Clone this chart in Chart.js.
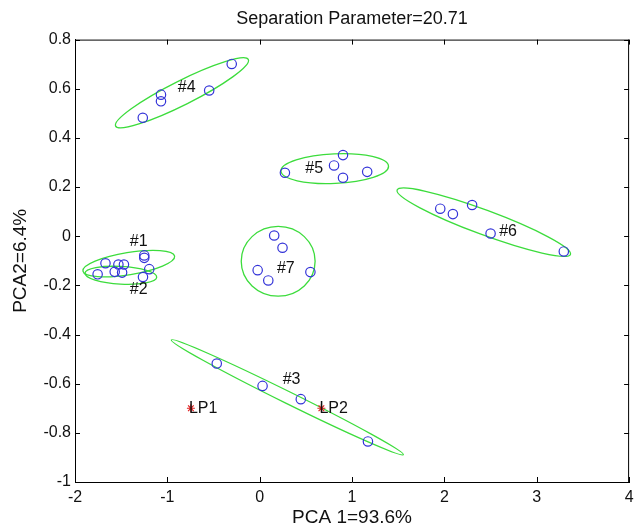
<!DOCTYPE html>
<html lang="en">
<head>
<meta charset="UTF-8">
<title>Separation Parameter</title>
<script src="https://cdn.jsdelivr.net/npm/chart.js"></script>
<style>
  body { margin: 0; background: #fff; }
  .wrap { width: 635px; height: 529px; }
</style>
</head>
<body>
<div class="wrap"><canvas id="pcaChart"></canvas></div>
<script>
// axis ticks
const xTicks = [-2, -1, 0, 1, 2, 3, 4];
const yTicks = [0.8, 0.6, 0.4, 0.2, 0, -0.2, -0.4, -0.6, -0.8, -1];

// sample scores (PCA1, PCA2) per group
const group1 = [[-1.25, -0.078], [-1.25, -0.088], [-1.196, -0.134], [-1.264, -0.166], [-1.53, -0.115]];
const group2 = [[-1.755, -0.155], [-1.67, -0.11], [-1.57, -0.145], [-1.49, -0.148], [-1.47, -0.115]];
const group3 = [[-0.465, -0.518], [0.031, -0.609], [0.445, -0.663], [1.172, -0.835]];
const group4 = [[-1.266, 0.482], [-1.069, 0.576], [-1.069, 0.549], [-0.547, 0.593], [-0.303, 0.701]];
const group5 = [[0.273, 0.258], [0.805, 0.288], [0.902, 0.330], [0.902, 0.238], [1.164, 0.262]];
const group6 = [[1.955, 0.112], [2.092, 0.090], [2.30, 0.127], [2.50, 0.011], [3.293, -0.062]];
const group7 = [[0.157, 0.003], [0.247, -0.047], [-0.022, -0.138], [0.093, -0.180], [0.549, -0.146]];

// reference points
const refNames = ['LP1', 'LP2'];
const refX = [-0.745, 0.668];
const refY = [-0.70, -0.70];

// group labels
const groupNames = ['#1', '#2', '#3', '#4', '#5', '#6', '#7'];
const groupLabelX = [-1.31, -1.31, 0.345, -0.79, 0.59, 2.69, 0.283];
const groupLabelY = [-0.02, -0.219, -0.582, 0.604, 0.274, 0.017, -0.132];

// confidence ellipses: major axis end points (x1, y1, x2, y2) and minor half-axis in PCA2 units
const ellipseAxes = [
  [-1.914, -0.142, -0.921, -0.081, 0.045],
  [-1.892, -0.151, -1.115, -0.167, 0.036],
  [-0.957, -0.422, 1.556, -0.889, 0.024],
  [-1.56, 0.448, -0.123, 0.719, 0.049],
  [0.23, 0.265, 1.395, 0.285, 0.06],
  [1.488, 0.188, 3.365, -0.074, 0.05],
  [-0.2, -0.102, 0.6, -0.102, 0.142]
];

const groups = [group1, group2, group3, group4, group5, group6, group7];

const pointSets = groups.map((g, i) => ({
  label: groupNames[i],
  data: g.map(p => ({ x: p[0], y: p[1] })),
  pointStyle: 'circle',
  pointRadius: 4.7,
  borderColor: '#3434d8',
  backgroundColor: 'rgba(0,0,0,0)',
  borderWidth: 1.2,
  showLine: false
}));

pointSets.push({
  label: 'LP',
  data: refX.map((x, i) => ({ x: x, y: refY[i] })),
  pointStyle: 'star',
  pointRadius: 4,
  borderColor: '#e02020',
  backgroundColor: '#e02020',
  borderWidth: 1.2,
  showLine: false
});

const boxPlugin = {
  id: 'boxPlugin',
  beforeDatasetsDraw(chart) {
    const { ctx, scales: { x, y } } = chart;
    ctx.save();
    ctx.strokeStyle = '#3cdc3c';
    ctx.lineWidth = 1.3;
    ellipseAxes.forEach(([x1, y1, x2, y2, w]) => {
      const ax = x.getPixelForValue(x1), ay = y.getPixelForValue(y1);
      const bx = x.getPixelForValue(x2), by = y.getPixelForValue(y2);
      const rx = Math.hypot(bx - ax, by - ay) / 2;
      const ry = Math.abs(y.getPixelForValue(0) - y.getPixelForValue(w));
      ctx.beginPath();
      ctx.ellipse((ax + bx) / 2, (ay + by) / 2, rx, ry, Math.atan2(by - ay, bx - ax), 0, Math.PI * 2);
      ctx.stroke();
    });
    ctx.restore();
  },
  afterDatasetsDraw(chart) {
    const { ctx, chartArea: a, scales: { x, y } } = chart;
    ctx.save();
    // box + inward ticks
    ctx.strokeStyle = '#000';
    ctx.lineWidth = 1;
    ctx.beginPath();
    ctx.moveTo(a.left, a.top + 0.5);
    ctx.lineTo(a.right, a.top + 0.5);
    ctx.moveTo(a.right - 0.5, a.top);
    ctx.lineTo(a.right - 0.5, a.bottom);
    xTicks.forEach(v => {
      const px = Math.round(x.getPixelForValue(v)) + 0.5;
      ctx.moveTo(px, a.bottom);
      ctx.lineTo(px, a.bottom - 5);
      ctx.moveTo(px, a.top);
      ctx.lineTo(px, a.top + 5);
    });
    yTicks.forEach(v => {
      const py = Math.round(y.getPixelForValue(v)) + 0.5;
      ctx.moveTo(a.left, py);
      ctx.lineTo(a.left + 5, py);
      ctx.moveTo(a.right, py);
      ctx.lineTo(a.right - 5, py);
    });
    ctx.stroke();

    // text labels
    ctx.fillStyle = '#111';
    ctx.font = '16px "Liberation Sans", Arial, sans-serif';
    ctx.textAlign = 'center';
    ctx.textBaseline = 'middle';
    groupNames.forEach((n, i) => {
      ctx.fillText(n, x.getPixelForValue(groupLabelX[i]), y.getPixelForValue(groupLabelY[i]));
    });
    ctx.textAlign = 'left';
    refNames.forEach((n, i) => {
      ctx.fillText(n, x.getPixelForValue(refX[i]) - 2, y.getPixelForValue(refY[i]));
    });
    ctx.restore();
  }
};

const fontName = '"Liberation Sans", Arial, sans-serif';

new Chart(document.getElementById('pcaChart'), {
  type: 'scatter',
  data: { datasets: pointSets },
  options: {
    responsive: true,
    maintainAspectRatio: false,
    animation: false,
    layout: { padding: { left: 0, right: 0, top: 0, bottom: 0 } },
    plugins: {
      legend: { display: false },
      tooltip: { enabled: false },
      title: {
        display: true,
        text: 'Separation Parameter=20.71',
        fullSize: false,
        color: '#111',
        font: { family: fontName, size: 18, weight: 'normal' },
        padding: { top: 8, bottom: 10 }
      }
    },
    scales: {
      x: {
        type: 'linear',
        min: -2,
        max: 4,
        afterBuildTicks: s => { s.ticks = xTicks.map(v => ({ value: v })); },
        afterFit: s => { s.height = 47; s.paddingRight = 4; },
        grid: { display: false, drawTicks: false },
        border: { display: true, color: '#000', width: 1 },
        ticks: { color: '#111', padding: 6, font: { family: fontName, size: 16 } },
        title: {
          display: true,
          text: 'PCA 1=93.6%',
          color: '#111',
          font: { family: fontName, size: 19 },
          padding: { top: -2, bottom: 0 }
        }
      },
      y: {
        type: 'linear',
        min: -1,
        max: 0.8,
        afterBuildTicks: s => { s.ticks = yTicks.map(v => ({ value: v })); },
        afterFit: s => { s.width = 75; },
        grid: { display: false, drawTicks: false },
        border: { display: true, color: '#000', width: 1 },
        ticks: { color: '#111', padding: 4, font: { family: fontName, size: 16 },
          callback: v => String(Math.round(v * 10) / 10) },
        title: {
          display: true,
          text: 'PCA2=6.4%',
          color: '#111',
          font: { family: fontName, size: 19 },
          padding: { top: 9, bottom: 0 }
        }
      }
    }
  },
  plugins: [boxPlugin]
});
</script>
</body>
</html>
